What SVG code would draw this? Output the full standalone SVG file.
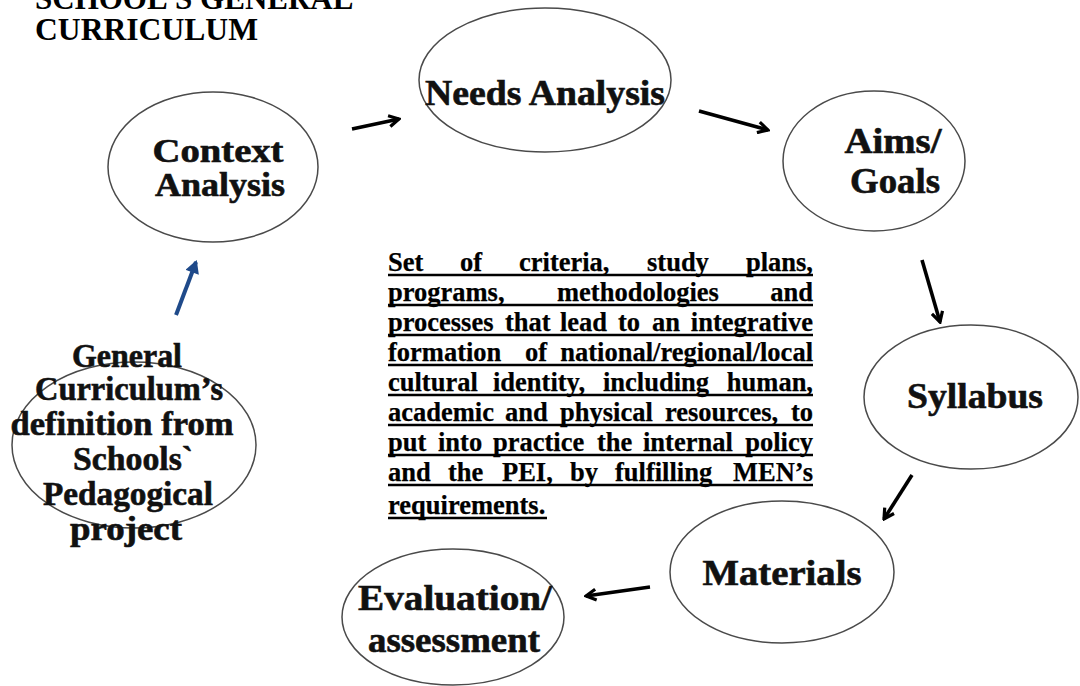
<svg xmlns="http://www.w3.org/2000/svg" width="1080" height="686" viewBox="0 0 1080 686">
  <style>
    .node { fill: #ffffff; stroke: #4a4a4a; stroke-width: 1.5; }
    .lbl { font-family: "Liberation Serif", "Times New Roman", serif; font-weight: bold; fill: #111111; stroke: #111111; stroke-width: 0.6; text-anchor: middle; }
    .title { font-family: "Liberation Serif", "Times New Roman", serif; font-weight: bold; font-size: 31px; fill: #000000; }
    .body { font-family: "Liberation Serif", "Times New Roman", serif; font-weight: bold; font-size: 26.5px; fill: #000000; stroke: #000000; stroke-width: 0.25; }
    .uline { stroke: #000000; stroke-width: 2.4; }
    .arrow { stroke: #000000; stroke-width: 3.6; fill: none; marker-end: url(#head); }
    .arrow-blue { stroke: #1F4A8A; stroke-width: 4; fill: none; marker-end: url(#head-blue); }
  </style>
  <defs>
    <marker id="head" markerUnits="userSpaceOnUse" viewBox="0 0 14 14" markerWidth="14" markerHeight="14" refX="12" refY="7" orient="auto">
      <path d="M2,1.5 L12,7 L2,12.5" fill="none" stroke="#000000" stroke-width="3.2"/>
    </marker>
    <marker id="head-blue" markerUnits="userSpaceOnUse" viewBox="0 0 14 14" markerWidth="14" markerHeight="14" refX="12" refY="7" orient="auto">
      <path d="M2,1.5 L12,7 L2,12.5 Z" fill="#1F4A8A" stroke="#1F4A8A" stroke-width="2"/>
    </marker>
  </defs>

  <rect width="1080" height="686" fill="#ffffff"/>

  <!-- heading; its first line runs past the top edge -->
  <g id="title">
    <text class="title" x="35" y="9">SCHOOL’S GENERAL</text>
    <text class="title" x="35" y="40" textLength="223" lengthAdjust="spacingAndGlyphs">CURRICULUM</text>
  </g>

  <!-- connectors -->
  <g id="connectors">
    <line class="arrow" x1="352" y1="129" x2="399" y2="119"/>
    <line class="arrow" x1="699" y1="111" x2="768" y2="130"/>
    <line class="arrow" x1="922" y1="260" x2="940" y2="322"/>
    <line class="arrow" x1="912" y1="475" x2="884" y2="519"/>
    <line class="arrow" x1="650" y1="587" x2="586" y2="596"/>
    <line class="arrow-blue" x1="176" y1="315" x2="196" y2="262"/>
  </g>

  <!-- cycle nodes -->
  <g id="context-analysis">
    <ellipse class="node" cx="213" cy="167" rx="105" ry="75"/>
    <text class="lbl" x="218" y="162" font-size="33" textLength="131" lengthAdjust="spacingAndGlyphs">Context</text>
    <text class="lbl" x="220" y="196" font-size="33" textLength="130" lengthAdjust="spacingAndGlyphs">Analysis</text>
  </g>

  <g id="needs-analysis">
    <ellipse class="node" cx="545" cy="80" rx="126" ry="72"/>
    <text class="lbl" x="545" y="105" font-size="35" textLength="240" lengthAdjust="spacingAndGlyphs">Needs Analysis</text>
  </g>

  <g id="aims-goals">
    <ellipse class="node" cx="874" cy="161" rx="91" ry="70"/>
    <text class="lbl" x="893" y="153" font-size="35" textLength="97" lengthAdjust="spacingAndGlyphs">Aims/</text>
    <text class="lbl" x="895" y="193" font-size="35" textLength="90" lengthAdjust="spacingAndGlyphs">Goals</text>
  </g>

  <g id="syllabus">
    <ellipse class="node" cx="971" cy="397" rx="107" ry="72"/>
    <text class="lbl" x="975" y="408" font-size="35" textLength="136" lengthAdjust="spacingAndGlyphs">Syllabus</text>
  </g>

  <g id="materials">
    <ellipse class="node" cx="782" cy="572" rx="112" ry="71"/>
    <text class="lbl" x="782" y="585" font-size="35" textLength="159" lengthAdjust="spacingAndGlyphs">Materials</text>
  </g>

  <g id="evaluation">
    <ellipse class="node" cx="453" cy="617" rx="111" ry="68"/>
    <text class="lbl" x="455" y="610" font-size="35" textLength="194" lengthAdjust="spacingAndGlyphs">Evaluation/</text>
    <text class="lbl" x="454" y="652" font-size="35" textLength="172" lengthAdjust="spacingAndGlyphs">assessment</text>
  </g>

  <g id="general-curriculum">
    <ellipse class="node" cx="134" cy="445" rx="122" ry="83"/>
    <text class="lbl" x="127" y="367" font-size="33" textLength="110" lengthAdjust="spacingAndGlyphs">General</text>
    <text class="lbl" x="129" y="400" font-size="33" textLength="188" lengthAdjust="spacingAndGlyphs">Curriculum’s</text>
    <text class="lbl" x="122" y="435" font-size="33" textLength="223" lengthAdjust="spacingAndGlyphs">definition from</text>
    <text class="lbl" x="133" y="470" font-size="33" textLength="120" lengthAdjust="spacingAndGlyphs">Schools`</text>
    <text class="lbl" x="128" y="505" font-size="33" textLength="170" lengthAdjust="spacingAndGlyphs">Pedagogical</text>
    <text class="lbl" x="126" y="540" font-size="33" textLength="112" lengthAdjust="spacingAndGlyphs">project</text>
  </g>

  <!-- central definition, justified and underlined -->
  <g id="definition">
    <text class="body" y="271"><tspan x="388">Set</tspan><tspan x="460">of</tspan><tspan x="519">criteria,</tspan><tspan x="647">study</tspan><tspan x="813" text-anchor="end">plans,</tspan></text>
    <text class="body" y="301"><tspan x="388">programs,</tspan><tspan x="557">methodologies</tspan><tspan x="813" text-anchor="end">and</tspan></text>
    <text class="body" y="331"><tspan x="388">processes</tspan><tspan x="505">that</tspan><tspan x="560">lead</tspan><tspan x="618">to</tspan><tspan x="652">an</tspan><tspan x="813" text-anchor="end">integrative</tspan></text>
    <text class="body" y="361"><tspan x="388">formation</tspan><tspan x="525">of</tspan><tspan x="813" text-anchor="end">national/regional/local</tspan></text>
    <text class="body" y="391"><tspan x="388">cultural</tspan><tspan x="493">identity,</tspan><tspan x="603">including</tspan><tspan x="813" text-anchor="end">human,</tspan></text>
    <text class="body" y="421"><tspan x="388">academic</tspan><tspan x="505">and</tspan><tspan x="560">physical</tspan><tspan x="665">resources,</tspan><tspan x="813" text-anchor="end">to</tspan></text>
    <text class="body" y="451"><tspan x="388">put</tspan><tspan x="438">into</tspan><tspan x="493">practice</tspan><tspan x="597">the</tspan><tspan x="643">internal</tspan><tspan x="813" text-anchor="end">policy</tspan></text>
    <text class="body" y="481"><tspan x="388">and</tspan><tspan x="448">the</tspan><tspan x="502">PEI,</tspan><tspan x="570">by</tspan><tspan x="615">fulfilling</tspan><tspan x="813" text-anchor="end">MEN’s</tspan></text>
    <text class="body" x="388" y="514">requirements.</text>
    <line class="uline" x1="388" y1="275" x2="813" y2="275"/>
    <line class="uline" x1="388" y1="305" x2="813" y2="305"/>
    <line class="uline" x1="388" y1="335" x2="813" y2="335"/>
    <line class="uline" x1="388" y1="365" x2="813" y2="365"/>
    <line class="uline" x1="388" y1="395" x2="813" y2="395"/>
    <line class="uline" x1="388" y1="425" x2="813" y2="425"/>
    <line class="uline" x1="388" y1="455" x2="813" y2="455"/>
    <line class="uline" x1="388" y1="485" x2="813" y2="485"/>
    <line class="uline" x1="388" y1="518" x2="547" y2="518"/>
  </g>
</svg>
